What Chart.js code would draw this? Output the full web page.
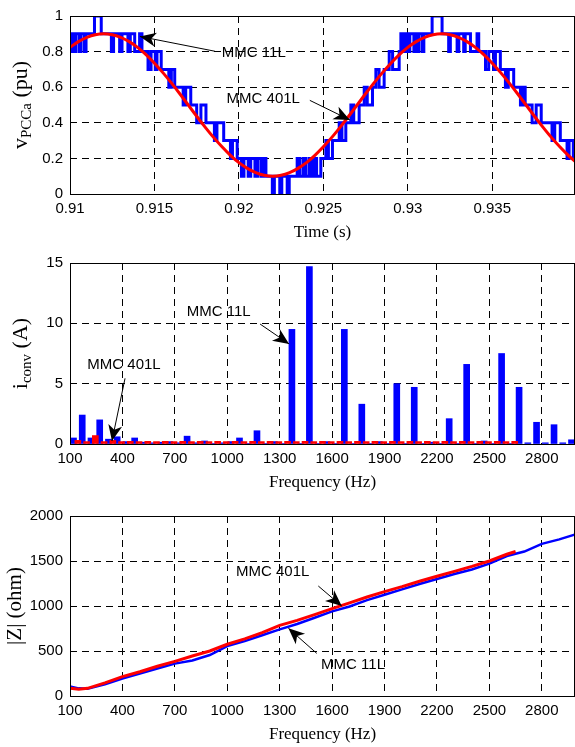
<!DOCTYPE html>
<html>
<head>
<meta charset="utf-8">
<script src="https://cdn.jsdelivr.net/npm/chart.js@4.4.0/dist/chart.umd.min.js"></script>
<style>
  html, body { margin: 0; padding: 0; background: #fff; }
  #wrap { position: relative; width: 575px; height: 747px; }
  #wrap canvas { position: absolute; left: 0; }
</style>
</head>
<body>
<div id="wrap">
  <canvas id="c1" width="575" height="245" style="top:0"></canvas>
  <canvas id="c2" width="575" height="250" style="top:245px"></canvas>
  <canvas id="c3" width="575" height="252" style="top:495px"></canvas>
</div>
<script>
const SANS = '"Liberation Sans", Arial, sans-serif';
const SERIF = '"Liberation Serif", "Times New Roman", serif';

// ---- plot 1: PCC voltage vs time
const timeTicks = [0.91, 0.915, 0.92, 0.925, 0.93, 0.935];
const puTicks = [0, 0.2, 0.4, 0.6, 0.8, 1];

const mmc401T = [
  0.9100,0.9105,0.9110,0.9115,0.9120,0.9125,0.9130,0.9135,0.9140,0.9145,
  0.9150,0.9155,0.9160,0.9165,0.9170,0.9175,0.9180,0.9185,0.9190,0.9195,
  0.9200,0.9205,0.9210,0.9215,0.9220,0.9225,0.9230,0.9235,0.9240,0.9245,
  0.9250,0.9255,0.9260,0.9265,0.9270,0.9275,0.9280,0.9285,0.9290,0.9295,
  0.9300,0.9305,0.9310,0.9315,0.9320,0.9325,0.9330,0.9335,0.9340,0.9345,
  0.9350,0.9355,0.9360,0.9365,0.9370,0.9375,0.9380,0.9385,0.9390,0.9395,
  0.9400
];
const mmc401V = [
  0.824,0.856,0.880,0.895,0.900,0.895,0.880,0.856,0.824,0.783,
  0.735,0.682,0.624,0.563,0.500,0.437,0.376,0.318,0.265,0.217,
  0.176,0.144,0.120,0.105,0.100,0.105,0.120,0.144,0.176,0.217,
  0.265,0.318,0.376,0.437,0.500,0.563,0.624,0.682,0.735,0.783,
  0.824,0.856,0.880,0.895,0.900,0.895,0.880,0.856,0.824,0.783,
  0.735,0.682,0.624,0.563,0.500,0.437,0.376,0.318,0.265,0.217,
  0.176
];

// 11-level output: switching instants and the level held from each one
const mmc11T = [
  0.91000,0.91010,0.91025,0.91035,0.91055,0.91065,0.91085,0.91095,0.91145,0.91185,
  0.91245,0.91258,0.91294,0.91308,0.91343,0.91357,0.91383,0.91412,0.91426,0.91462,
  0.91480,0.91505,0.91515,0.91540,0.91585,0.91600,0.91620,0.91670,0.91685,0.91715,
  0.91750,0.91775,0.91805,0.91855,0.91870,0.91910,0.91950,0.91962,0.91990,0.92015,
  0.92030,0.92055,0.92070,0.92095,0.92110,0.92130,0.92145,0.92160,0.92198,0.92210,
  0.92242,0.92254,0.92286,0.92298,0.92345,0.92360,0.92380,0.92395,0.92415,0.92430,
  0.92445,0.92460,0.92485,0.92515,0.92530,0.92554,0.92594,0.92610,0.92633,0.92663,
  0.92680,0.92712,0.92742,0.92760,0.92791,0.92811,0.92830,0.92860,0.92890,0.92910,
  0.92949,0.92959,0.92975,0.92988,0.93000,0.93012,0.93036,0.93045,0.93055,0.93065,
  0.93085,0.93095,0.93144,0.93203,0.93242,0.93252,0.93292,0.93302,0.93331,0.93340,
  0.93371,0.93410,0.93420,0.93460,0.93479,0.93509,0.93519,0.93548,0.93578,0.93595,
  0.93627,0.93667,0.93680,0.93695,0.93736,0.93760,0.93790,0.93854,0.93870,0.93903,
  0.93943,0.93955,0.93980,0.93990
];
const mmc11V = [
  0.8,0.9,0.8,0.9,0.8,0.9,0.8,0.9,1.0,0.9,
  0.8,0.9,0.8,0.9,0.8,0.9,0.8,0.9,0.8,0.7,
  0.8,0.7,0.8,0.7,0.6,0.7,0.6,0.5,0.6,0.5,
  0.4,0.5,0.4,0.3,0.4,0.3,0.2,0.3,0.2,0.1,
  0.2,0.1,0.2,0.1,0.2,0.1,0.2,0.1,0.0,0.1,
  0.0,0.1,0.0,0.1,0.2,0.1,0.2,0.1,0.2,0.1,
  0.2,0.1,0.2,0.3,0.2,0.3,0.4,0.3,0.4,0.5,
  0.4,0.5,0.6,0.5,0.6,0.7,0.6,0.7,0.8,0.7,
  0.8,0.9,0.8,0.9,0.8,0.9,0.8,0.9,0.8,0.9,
  0.8,0.9,1.0,0.9,0.8,0.9,0.8,0.9,0.8,0.9,
  0.8,0.9,0.8,0.7,0.8,0.7,0.8,0.7,0.6,0.7,
  0.6,0.5,0.6,0.5,0.4,0.5,0.4,0.3,0.4,0.3,
  0.2,0.3,0.2,0.2
];

// ---- plot 2: converter current spectrum
const freqTicks = [100, 400, 700, 1000, 1300, 1600, 1900, 2200, 2500, 2800];
const ampTicks = [0, 5, 10, 15];
const spec11F = [
  120,170,220,270,320,370,420,470,520,570,
  620,670,720,770,820,870,920,970,1020,1070,
  1120,1170,1220,1270,1320,1370,1420,1470,1520,1570,
  1620,1670,1720,1770,1820,1870,1920,1970,2020,2070,
  2120,2170,2220,2270,2320,2370,2420,2470,2520,2570,
  2620,2670,2720,2770,2820,2870,2920,2970
];
const spec11A = [
  0.5, 2.4, 0.5, 2.0, 0.4, 0.6, 0.2, 0.5, 0.15, 0.1,
  0.15, 0.2, 0.1, 0.65, 0.1, 0.25, 0.05, 0.1, 0.2, 0.5,
  0.05, 1.1, 0.05, 0.2, 0.05, 9.5, 0.05, 14.7, 0.05, 0.2,
  0.05, 9.5, 0.05, 3.3, 0.05, 0.2, 0.05, 5.0, 0.05, 4.7,
  0.05, 0.15, 0.05, 2.1, 0.05, 6.6, 0.05, 0.25, 0.05, 7.5,
  0.05, 4.7, 0.1, 1.8, 0.1, 1.6, 0.1, 0.35
];
const spec401F = [
  145,195,245,295,345,395,445,495,545,595,
  645,695,745,795,845,895,945,995,1045,1095,
  1145,1195,1245,1295,1345,1395,1445,1495,1545,1595,
  1645,1695,1745,1795,1845,1895,1945,1995,2045,2095,
  2145,2195,2245,2295,2345,2395,2445,2495,2545,2595,
  2645
];
const spec401A = [
  0.3, 0.2, 0.7, 0.2, 0.3, 0.2, 0.22, 0.2, 0.22, 0.2,
  0.22, 0.2, 0.22, 0.2, 0.22, 0.2, 0.22, 0.2, 0.22, 0.2,
  0.22, 0.2, 0.22, 0.2, 0.22, 0.2, 0.22, 0.2, 0.22, 0.2,
  0.22, 0.2, 0.22, 0.2, 0.22, 0.2, 0.22, 0.2, 0.22, 0.2,
  0.22, 0.2, 0.22, 0.2, 0.22, 0.2, 0.22, 0.2, 0.22, 0.2,
  0.22
];

// ---- plot 3: impedance magnitude
const zTicks = [0, 500, 1000, 1500, 2000];
const imp11F = [100,150,200,300,400,500,600,700,800,900,1000,1100,1200,1300,1400,1500,
                1600,1700,1800,1900,2000,2100,2200,2300,2400,2500,2600,2700,2800,2900,3000];
const imp11Z = [105,85,80,130,195,250,305,360,395,455,555,610,675,740,800,870,
                940,995,1065,1125,1185,1245,1300,1355,1405,1470,1555,1605,1690,1740,1800];
const imp401F = [100,150,200,300,400,500,600,700,800,900,1000,1100,1200,1300,1400,1500,
                 1600,1700,1800,1900,2000,2100,2200,2300,2400,2500,2600,2650];
const imp401Z = [85,75,85,145,215,270,330,385,445,500,575,635,705,785,840,905,
                 970,1035,1100,1160,1215,1275,1330,1385,1440,1500,1575,1605];

function pts(xs, ys) {
  return xs.map((x, i) => ({ x: x, y: ys[i] }));
}

function arrow(ctx, x0, y0, x1, y1) {
  ctx.beginPath();
  ctx.moveTo(x0, y0);
  ctx.lineTo(x1, y1);
  ctx.stroke();
  const a = Math.atan2(y1 - y0, x1 - x0);
  const c = Math.cos(a), s = Math.sin(a);
  const L = 16, W = 7;
  ctx.beginPath();
  ctx.moveTo(x1, y1);
  ctx.lineTo(x1 - L * c + W * s, y1 - L * s - W * c);
  ctx.lineTo(x1 - 0.72 * L * c, y1 - 0.72 * L * s);
  ctx.lineTo(x1 - L * c - W * s, y1 - L * s + W * c);
  ctx.closePath();
  ctx.fill();
}

// frame, axis titles and the arrow notes
function decor(opt) {
  return {
    id: 'decor',
    afterDraw(chart) {
      const { ctx, chartArea: a } = chart;
      const xs = chart.scales.x, ys = chart.scales.y;
      ctx.save();
      ctx.strokeStyle = '#000';
      ctx.fillStyle = '#000';
      ctx.lineWidth = 1;
      ctx.strokeRect(a.left + 0.5, a.top + 0.5, a.right - a.left - 1, a.bottom - a.top);

      ctx.font = '17px ' + SERIF;
      ctx.textAlign = 'center';
      ctx.textBaseline = 'middle';
      ctx.fillText(opt.xTitle, (a.left + a.right) / 2, a.bottom + 39);

      ctx.save();
      ctx.translate(opt.yTitleX, (a.top + a.bottom) / 2);
      ctx.rotate(-Math.PI / 2);
      ctx.textAlign = 'left';
      let w = 0;
      opt.yTitle.forEach(p => { ctx.font = p.size + 'px ' + SERIF; w += ctx.measureText(p.text).width; });
      let px = -w / 2;
      opt.yTitle.forEach(p => {
        ctx.font = p.size + 'px ' + SERIF;
        ctx.fillText(p.text, px, p.dy || 0);
        px += ctx.measureText(p.text).width;
      });
      ctx.restore();

      ctx.font = '15px ' + SANS;
      ctx.textAlign = 'left';
      ctx.textBaseline = 'middle';
      opt.notes.forEach(n => {
        ctx.fillText(n.text, xs.getPixelForValue(n.at[0]), ys.getPixelForValue(n.at[1]));
        arrow(ctx,
          xs.getPixelForValue(n.from[0]), ys.getPixelForValue(n.from[1]),
          xs.getPixelForValue(n.to[0]), ys.getPixelForValue(n.to[1]));
      });
      ctx.restore();
    }
  };
}

function axes(xMin, xMax, xTicks, yMin, yMax, yTicks) {
  const grid = { color: '#000', lineWidth: 1, drawTicks: false, offset: false };
  const border = { display: false, dash: [7, 5] };
  const font = { family: SANS, size: 15 };
  return {
    x: {
      type: 'linear', min: xMin, max: xMax, offset: false, grid: grid, border: border,
      ticks: { color: '#000', font: font, padding: 6, autoSkip: false, maxRotation: 0, callback: v => String(v) },
      afterBuildTicks: s => { s.ticks = xTicks.map(v => ({ value: v })); },
      afterFit: s => { s.height = 51; }
    },
    y: {
      type: 'linear', min: yMin, max: yMax, grid: grid, border: border,
      ticks: { color: '#000', font: font, padding: 7, autoSkip: false, callback: v => String(v) },
      afterBuildTicks: s => { s.ticks = yTicks.map(v => ({ value: v })); },
      afterFit: s => { s.width = 70; }
    }
  };
}

function baseOptions(top, scales) {
  return {
    responsive: false,
    animation: false,
    layout: { padding: { top: top, right: 0, left: 0, bottom: 0 } },
    plugins: { legend: { display: false }, tooltip: { enabled: false } },
    scales: scales
  };
}

// 1. PCC voltage
new Chart(document.getElementById('c1'), {
  type: 'line',
  data: {
    datasets: [{
      label: 'MMC 401L',
      data: pts(mmc401T, mmc401V),
      borderColor: '#ff0000',
      borderWidth: 3,
      pointRadius: 0,
      cubicInterpolationMode: 'monotone',
      clip: 0
    }, {
      label: 'MMC 11L',
      data: pts(mmc11T, mmc11V),
      borderColor: '#0000ff',
      borderWidth: 3,
      pointRadius: 0,
      stepped: true,
      clip: 0
    }]
  },
  options: baseOptions(12, axes(0.91, 0.9399, timeTicks, 0, 1, puTicks)),
  plugins: [decor({
    xTitle: 'Time (s)',
    yTitleX: 21,
    yTitle: [{ text: 'v', size: 22 }, { text: 'PCCa', size: 15, dy: 6 }, { text: ' (pu)', size: 22 }],
    notes: [
      { text: 'MMC 11L', at: [0.91899, 0.791], from: [0.91858, 0.802], to: [0.91414, 0.885] },
      { text: 'MMC 401L', at: [0.91927, 0.535], from: [0.9242, 0.526], to: [0.92657, 0.416] }
    ]
  })]
});

// 2. Converter current spectrum
new Chart(document.getElementById('c2'), {
  type: 'bar',
  data: {
    datasets: [{
      label: 'MMC 401L',
      data: pts(spec401F, spec401A),
      backgroundColor: '#ff0000',
      barThickness: 6,
      grouped: false
    }, {
      label: 'MMC 11L',
      data: pts(spec11F, spec11A),
      backgroundColor: '#0000ff',
      barThickness: 6,
      grouped: false
    }]
  },
  options: baseOptions(18, axes(100, 2990, freqTicks, 0, 15, ampTicks)),
  plugins: [decor({
    xTitle: 'Frequency (Hz)',
    yTitleX: 21,
    yTitle: [{ text: 'i', size: 22 }, { text: 'conv', size: 15, dy: 6 }, { text: ' (A)', size: 22 }],
    notes: [
      { text: 'MMC 11L', at: [768, 10.96], from: [1188, 9.94], to: [1354, 8.29] },
      { text: 'MMC 401L', at: [199, 6.55], from: [415, 5.44], to: [340, 0.25] }
    ]
  })]
});

// 3. Impedance magnitude
new Chart(document.getElementById('c3'), {
  type: 'line',
  data: {
    datasets: [{
      label: 'MMC 401L',
      data: pts(imp401F, imp401Z),
      borderColor: '#ff0000',
      borderWidth: 3,
      pointRadius: 0,
      tension: 0
    }, {
      label: 'MMC 11L',
      data: pts(imp11F, imp11Z),
      borderColor: '#0000ff',
      borderWidth: 2.5,
      pointRadius: 0,
      tension: 0
    }]
  },
  options: baseOptions(21, axes(100, 2990, freqTicks, 0, 2000, zTicks)),
  plugins: [decor({
    xTitle: 'Frequency (Hz)',
    yTitleX: 15,
    yTitle: [{ text: '|Z| (ohm)', size: 21 }],
    notes: [
      { text: 'MMC 401L', at: [1050, 1381], from: [1521, 1222], to: [1655, 1000] },
      { text: 'MMC 11L', at: [1537, 344], from: [1512, 474], to: [1350, 752] }
    ]
  })]
});
</script>
</body>
</html>
